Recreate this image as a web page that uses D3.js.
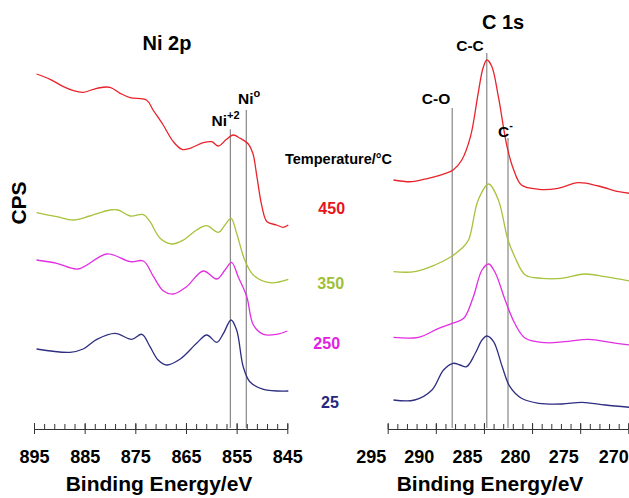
<!DOCTYPE html>
<html>
<head>
<meta charset="utf-8">
<script src="https://cdn.jsdelivr.net/npm/d3@7"></script>
<style>
  html, body { margin: 0; padding: 0; background: #fff; }
  svg { display: block; font-family: "Liberation Sans", Arial, sans-serif; }
  .bold { font-weight: bold; }
</style>
</head>
<body>
<div id="chart"></div>
<script>
// binding energy (eV) / counts (a.u.)

// Ni 2p spectra
const ni450 = [
  [894.5, 358], [891.8, 352.7], [889.2, 345.3], [887.2, 341.3], [885.3, 339.7],
  [882.6, 343.7], [880.0, 344.7], [878.0, 338.7], [876.0, 334.3], [872.8, 332],
  [871.5, 322], [869.5, 307], [867.5, 290.3], [865.8, 282.7], [864.2, 283.7],
  [861.6, 289.3], [859.9, 290.3], [858.6, 286], [857.0, 292.7], [855.7, 297],
  [854.3, 293.7], [852.7, 288], [851.8, 278.7], [851.0, 255.3], [850.0, 225.3],
  [849.0, 210.3], [847.1, 207], [845.8, 204.7], [844.8, 207]
];
const ni350 = [
  [894.5, 219.3], [890.5, 215.3], [887.2, 212], [884.0, 216], [880.0, 222],
  [878.4, 222], [876.0, 216], [873.4, 217.3], [872.1, 210.3], [870.1, 193.7],
  [867.8, 188], [865.5, 192], [862.9, 202], [860.9, 206.3], [858.6, 199.7],
  [857.3, 207], [856.1, 213.7], [855.0, 198.7], [853.4, 172], [851.7, 157],
  [848.4, 149.3], [844.8, 152.7]
];
const ni250 = [
  [894.5, 172], [890.5, 168.7], [886.3, 163], [880.6, 178], [876.0, 170.3],
  [873.4, 171], [871.4, 155.3], [869.5, 141.3], [867.5, 138], [864.9, 145.3],
  [861.6, 161], [858.9, 153], [857.3, 162], [856.0, 169.7], [854.7, 155.3],
  [853.0, 135.3], [851.7, 107], [849.7, 97.7], [847.1, 97.7], [845.0, 101]
];
const ni25 = [
  [894.5, 83], [887.9, 79.7], [885.3, 83], [882.6, 92.7], [879.0, 98.7],
  [875.7, 92.7], [873.7, 97.7], [872.1, 85.3], [870.5, 72], [868.8, 67],
  [866.2, 72.7], [862.9, 88.7], [860.9, 97], [858.9, 89.7], [857.6, 98.7],
  [856.1, 112], [855.0, 102], [853.7, 65.3], [852.4, 50.3], [849.7, 42.7],
  [844.8, 41]
];

// C 1s spectra
const c450 = [
  [294.4, 252], [292.5, 250.3], [290.8, 253.7], [289.0, 258.7], [288.2, 262],
  [287.3, 272], [286.4, 295.3], [285.6, 338.7], [285.1, 363.7], [284.7, 372],
  [284.2, 366], [283.5, 335.3], [282.6, 285.3], [281.9, 262], [281.1, 247],
  [279.3, 242.7], [277.3, 243.7], [275.2, 249.3], [273.1, 246], [271.0, 240.3],
  [269.9, 238.7]
];
const c350 = [
  [294.4, 160.3], [292.2, 160.3], [290.1, 167], [288.5, 174.7], [287.3, 183.7],
  [286.6, 192], [285.6, 232], [284.5, 248], [283.5, 232], [282.5, 192],
  [281.8, 175.3], [280.7, 157], [279.0, 153.7], [276.9, 153.7], [274.5, 158],
  [272.4, 155.3], [269.9, 151]
];
const c250 = [
  [294.4, 94.7], [291.8, 94.7], [289.7, 103.7], [288.3, 108.7], [287.1, 113.7],
  [286.1, 135.3], [285.2, 162], [284.5, 168], [283.8, 158.7], [282.8, 132],
  [281.8, 108.7], [280.7, 93.7], [278.6, 89.3], [276.6, 90.3], [274.1, 92.7],
  [271.7, 89.3], [269.9, 87]
];
const c25 = [
  [294.4, 32], [292.2, 32], [290.4, 42], [289.2, 62], [288.2, 68.7],
  [287.5, 67], [286.8, 65.3], [285.9, 78.7], [285.2, 92], [284.7, 96],
  [284.0, 90.3], [283.1, 65.3], [282.3, 45.3], [281.1, 33.7], [279.3, 28.7],
  [276.9, 28], [274.8, 29.7], [272.4, 27], [269.9, 24.7]
];

const temperatures = ["450", "350", "250", "25"];
const tempColors = ["#e8232b", "#a7c23c", "#e12fe1", "#2e2e82"];
const labelColors = ["#e8141c", "#a0be36", "#e21ee2", "#262680"];

// reference lines: energy, top (counts)
const niMarkerBE = [856.25, 853.1];
const niMarkerTop = [302.7, 322];
const cMarkerBE = [288.3, 284.7, 282.5];
const cMarkerTop = [324, 379, 294];

const niTicks = [895, 885, 875, 865, 855, 845];
const niMinor = d3.range(845, 896, 2);
const cTicks = [295, 290, 285, 280, 275, 270];
const cMinor = d3.range(270, 296, 1);

const W = 629, H = 498;
const axisY = 429;

const svg = d3.select("#chart").append("svg")
  .attr("width", W).attr("height", H);

const xNi = d3.scaleLinear().domain([895, 845]).range([34, 287.3]);
const xC = d3.scaleLinear().domain([295, 270]).range([387.7, 628.3]);
const y = d3.scaleLinear().domain([0, 400]).range([432, 32]);

function drawPanel(x, series, markerBE, markerTop, majors, minors, labelDx) {
  const g = svg.append("g");

  // marker lines
  g.selectAll("line.marker")
    .data(markerBE)
    .enter().append("line")
    .attr("class", "marker")
    .attr("x1", d => x(d)).attr("x2", d => x(d))
    .attr("y1", (d, i) => y(markerTop[i]))
    .attr("y2", axisY - 1)
    .attr("stroke", "#6f6f6f")
    .attr("stroke-width", 1);

  const line = d3.line()
    .x(d => x(d[0]))
    .y(d => y(d[1]))
    .curve(d3.curveCatmullRom.alpha(0.5));

  g.selectAll("path.spec")
    .data(series)
    .enter().append("path")
    .attr("class", "spec")
    .attr("d", line)
    .attr("fill", "none")
    .attr("stroke", (d, i) => tempColors[i])
    .attr("stroke-width", 1.3);

  // minor ticks (above the line)
  const minorAxis = g.append("g")
    .attr("transform", `translate(0,${axisY})`)
    .call(d3.axisTop(x).tickValues(minors).tickSize(5).tickFormat(""));
  minorAxis.select(".domain").remove();
  minorAxis.selectAll("line").attr("stroke", "#333");

  // major ticks crossing the line, with labels
  const majorAxis = g.append("g")
    .attr("transform", `translate(0,${axisY})`)
    .call(d3.axisBottom(x).tickValues(majors).tickSize(5).tickSizeOuter(0).tickFormat(d3.format("d")));
  majorAxis.select(".domain").attr("stroke", "#333");
  majorAxis.selectAll(".tick line").attr("stroke", "#333").attr("y1", -6);
  majorAxis.selectAll("text")
    .attr("class", "bold")
    .attr("y", 34).attr("dy", 0)
    .attr("dx", labelDx)
    .attr("fill", "#000")
    .style("font-size", "18px");
  return majorAxis;
}

drawPanel(xNi, [ni450, ni350, ni250, ni25], niMarkerBE, niMarkerTop, niTicks, niMinor, 0);
const cAxis = drawPanel(xC, [c450, c350, c250, c25], cMarkerBE, cMarkerTop, cTicks, cMinor, -17);
// last label would fall off the edge
cAxis.selectAll("text").filter(d => d === 270)
  .attr("text-anchor", "end").attr("dx", 0);

// titles
function label(x, yy, txt, size, anchor) {
  return svg.append("text")
    .attr("class", "bold")
    .attr("x", x).attr("y", yy)
    .attr("text-anchor", anchor || "middle")
    .style("font-size", size + "px")
    .text(txt);
}

label(167, 50, "Ni 2p", 20);
label(503, 29, "C 1s", 20);
label(159, 491, "Binding Energy/eV", 21);
label(490, 491, "Binding Energy/eV", 21);

svg.append("text")
  .attr("class", "bold")
  .attr("transform", "translate(26,203) rotate(-90)")
  .attr("text-anchor", "middle")
  .style("font-size", "21px")
  .text("CPS");

// peak labels
label(470, 51, "C-C", 15.5);
label(436, 104, "C-O", 15.5);

const cMinus = label(498, 137, "C", 15.5, "start");
cMinus.append("tspan").attr("dy", -8).style("font-size", "11px").text("-");

const niPlus = label(211.5, 126, "Ni", 15.5, "start");
niPlus.append("tspan").attr("dy", -7).style("font-size", "11px").text("+2");

const niZero = label(238, 104, "Ni", 15.5, "start");
niZero.append("tspan").attr("dy", -7).style("font-size", "11px").text("o");

// temperature legend
label(338.5, 164, "Temperature/°C", 14.5);
const tempX = [331.7, 330.7, 326.7, 330];
const tempY = [214, 289, 349, 408];
svg.selectAll("text.temp")
  .data(temperatures)
  .enter().append("text")
  .attr("class", "temp bold")
  .attr("x", (d, i) => tempX[i])
  .attr("y", (d, i) => tempY[i])
  .attr("text-anchor", "middle")
  .attr("fill", (d, i) => labelColors[i])
  .style("font-size", "16px")
  .text(d => d);
</script>
</body>
</html>
